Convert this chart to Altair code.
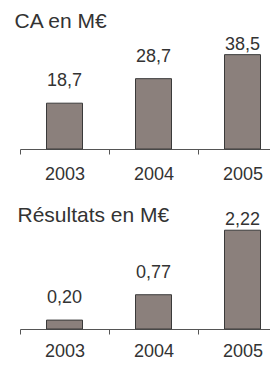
import altair as alt
import pandas as pd

years = ["2003", "2004", "2005"]
ca_values = [18.7, 28.7, 38.5]
res_values = [0.20, 0.77, 2.22]
title_ca = "CA en M€"
title_res = "Résultats en M€"

FONT = "Liberation Sans"
TEXT = "#333333"
BAR_FILL = "#8b807c"
BAR_STROKE = "#3a3a3a"
AXIS = "#555555"

PLOT_W = 250
STEP = 89.0


def panel(values, title, ymax, off, fmt, height, dx, offset, label_pad):
    df = pd.DataFrame({"year": years, "v": values})
    base = alt.Chart(df).transform_calculate(
        lab_y=f"datum.v + {off}",
        lbl=f"replace(format(datum.v, '{fmt}'), '.', ',')",
    )
    pad = (PLOT_W / STEP - 2) / 2
    align = (STEP / 2) / (PLOT_W - 2 * STEP)
    x = alt.X(
        "year:N",
        title=None,
        sort=years,
        scale=alt.Scale(type="point", padding=pad, align=align, round=False),
        axis=alt.Axis(
            labelAngle=0,
            labelFont=FONT,
            labelFontSize=18,
            labelColor=TEXT,
            domainColor=AXIS,
            tickColor=AXIS,
            tickSize=5,
            tickOffset=-STEP / 2,
            labelOffset=STEP / 2,
            labelPadding=label_pad,
            grid=False,
            domainWidth=1,
            tickWidth=1,
        ),
    )
    yscale = alt.Scale(domain=[0, ymax], clamp=True, nice=False, zero=True)
    bars = base.mark_bar(size=36, fill=BAR_FILL, stroke=BAR_STROKE, strokeWidth=1).encode(
        x=x, y=alt.Y("v:Q", scale=yscale, axis=None)
    )
    labels = base.mark_text(font=FONT, fontSize=18, color=TEXT, baseline="alphabetic").encode(
        x=x, y=alt.Y("lab_y:Q", scale=yscale, axis=None), text="lbl:N"
    )
    return alt.layer(bars, labels).properties(
        width=PLOT_W,
        height=height,
        title=alt.TitleParams(
            title,
            anchor="start",
            font=FONT,
            fontSize=21,
            fontWeight="normal",
            color=TEXT,
            dx=dx,
            offset=offset,
        ),
    )


top = panel(ca_values, title_ca, 40.4, 6.9, ".1f", 99, -5, 4, 11)
bottom = panel(res_values, title_res, 2.337, 0.38, ".2f", 104, -2, -15, 8)

chart = (
    alt.vconcat(top, bottom, spacing=76, bounds="flush")
    .configure_view(stroke=None)
    .properties(padding={"left": 6, "top": 3, "right": 0, "bottom": 0})
)

chart.save("out.html", embed_options={"renderer": "svg", "actions": False})
